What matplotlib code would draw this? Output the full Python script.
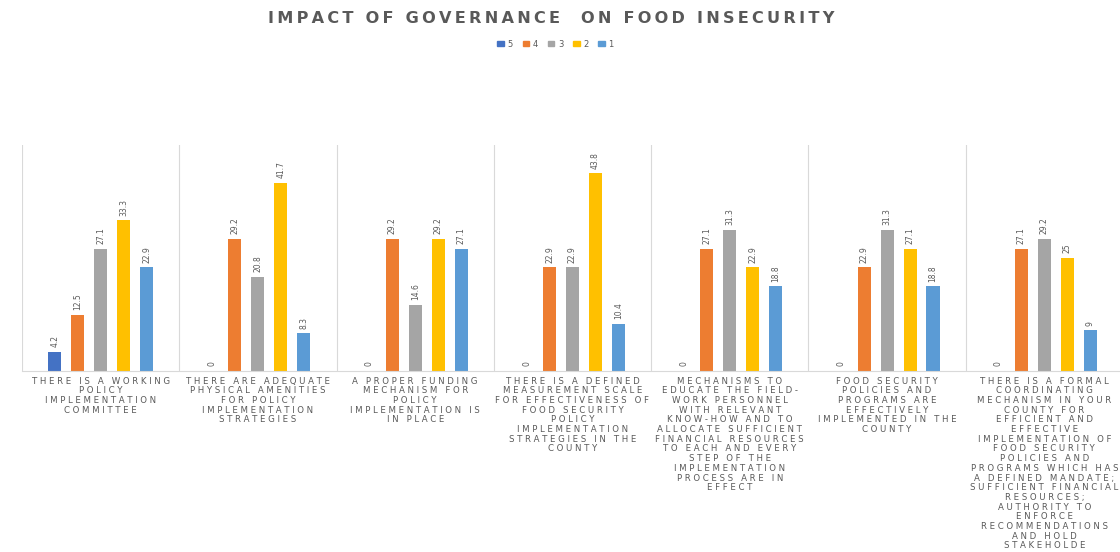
import matplotlib.pyplot as plt
import numpy as np
from matplotlib.patches import Patch

# Chart data
categories = [
    "THERE IS A WORKING\nPOLICY\nIMPLEMENTATION\nCOMMITTEE",
    "THERE ARE ADEQUATE\nPHYSICAL AMENITIES\nFOR POLICY\nIMPLEMENTATION\nSTRATEGIES",
    "A PROPER FUNDING\nMECHANISM FOR\nPOLICY\nIMPLEMENTATION IS\nIN PLACE",
    "THERE IS A DEFINED\nMEASUREMENT SCALE\nFOR EFFECTIVENESS OF\nFOOD SECURITY\nPOLICY\nIMPLEMENTATION\nSTRATEGIES IN THE\nCOUNTY",
    "MECHANISMS TO\nEDUCATE THE FIELD-\nWORK PERSONNEL\nWITH RELEVANT\nKNOW-HOW AND TO\nALLOCATE SUFFICIENT\nFINANCIAL RESOURCES\nTO EACH AND EVERY\nSTEP OF THE\nIMPLEMENTATION\nPROCESS ARE IN\nEFFECT",
    "FOOD SECURITY\nPOLICIES AND\nPROGRAMS ARE\nEFFECTIVELY\nIMPLEMENTED IN THE\nCOUNTY",
    "THERE IS A FORMAL\nCOORDINATING\nMECHANISM IN YOUR\nCOUNTY FOR\nEFFICIENT AND\nEFFECTIVE\nIMPLEMENTATION OF\nFOOD SECURITY\nPOLICIES AND\nPROGRAMS WHICH HAS\nA DEFINED MANDATE;\nSUFFICIENT FINANCIAL\nRESOURCES;\nAUTHORITY TO\nENFORCE\nRECOMMENDATIONS\nAND HOLD\nSTAKEHOLDE",
]
series_names = ["5", "4", "3", "2", "1"]
score_5 = [4.2, 0, 0, 0, 0, 0, 0]
score_4 = [12.5, 29.2, 29.2, 22.9, 27.1, 22.9, 27.1]
score_3 = [27.1, 20.8, 14.6, 22.9, 31.3, 31.3, 29.2]
score_2 = [33.3, 41.7, 29.2, 43.8, 22.9, 27.1, 25]
score_1 = [22.9, 8.3, 27.1, 10.4, 18.8, 18.8, 9]
series = [score_5, score_4, score_3, score_2, score_1]
colors = ["#4472C4", "#ED7D31", "#A5A5A5", "#FFC000", "#5B9BD5"]

TXT = "#595959"


def spaced(s, sep="\u2009"):
    # fake letter spacing
    return "\n".join(sep.join(line) for line in s.split("\n"))


fig = plt.figure(figsize=(11.2, 5.52), dpi=100)
ax = fig.add_axes([22 / 1120, 181 / 552, 1101 / 1120, 226 / 552])

x = np.arange(len(categories))
step = 0.146
width = 0.083
for i, (name, vals, col) in enumerate(zip(series_names, series, colors)):
    pos = x + (i - 2) * step
    bars = ax.bar(pos, vals, width, color=col, label=name)
    for p, v in zip(pos, vals):
        ax.text(p, v + 1.0, f"{v:g}", rotation=90, ha="center", va="bottom",
                fontsize=5.5, color=TXT)

ax.set_xlim(-0.5, len(categories) - 0.5)
ax.set_ylim(0, 50)
ax.set_yticks([])
for b in np.arange(-0.5, len(categories), 1.0):
    ax.axvline(b, color="#D9D9D9", lw=0.8, zorder=0)
for s in ["top", "right", "left"]:
    ax.spines[s].set_visible(False)
ax.spines["bottom"].set_color("#D9D9D9")

ax.set_xticks(x)
ax.set_xticklabels([spaced(c, "\u2009\u200a") for c in categories], fontsize=6.2,
                   color=TXT, linespacing=1.1, va="top")
ax.tick_params(axis="x", length=0, pad=4)

fig.text(0.492, 0.967, spaced("IMPACT OF GOVERNANCE  ON FOOD INSECURITY", "\u2009"),
         ha="center", va="center", fontsize=11.6, fontweight="bold", color=TXT)

handles = [Patch(color=c, label=n) for n, c in zip(series_names, colors)]
fig.legend(handles=handles, loc="center", bbox_to_anchor=(0.496, 0.92), ncol=5,
           frameon=False, fontsize=6, handlelength=0.8, handleheight=0.6,
           handletextpad=0.4, columnspacing=1.2, labelcolor=TXT)

fig.savefig("out.png", dpi=100)
